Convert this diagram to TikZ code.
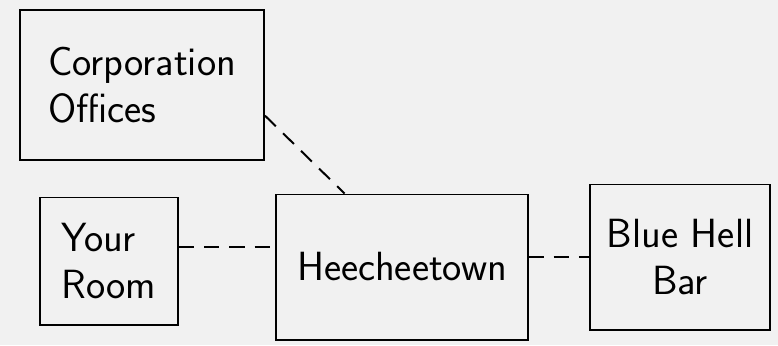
\documentclass[tikz,border=0pt]{standalone}
\usepackage{tikz}
\usetikzlibrary{positioning}

\definecolor{paper}{HTML}{F1F1F1}

\begin{document}
\begin{tikzpicture}[x=0.025cm,y=-0.025cm,line width=1.4pt,
        every node/.append style={font=\sffamily\fontsize{29}{33}\selectfont}]
      \tikzstyle{place} = [draw=black,align=left,inner sep=0pt]
      \tikzstyle{link} = [dash pattern=on 0.38cm off 0.25cm]
      \fill[paper] (0,0) rectangle (778,345);
      \useasboundingbox (0,0) rectangle (778,345);
      \node (corp) [place,minimum width=6.1cm,minimum height=3.75cm] at (142,85) {Corporation\\Offices};
      \node (room) [place,minimum width=3.45cm,minimum height=3.175cm] at (109,261) {Your\\Room};
      \node (town) [place,minimum width=6.275cm,minimum height=3.625cm] at (402,267) {Heecheetown};
      \node (bar) [place,align=center,minimum width=4.5cm,minimum height=3.625cm] at (680,257) {Blue Hell\\Bar};
      \draw[link] (corp.-14) -- (town.128);
      \draw[link] ([yshift=3.4mm]room.east) -- ([yshift=3.4mm]room.east -| town.west);
      \draw[link] (bar.west -| town.east) -- (bar.west);
    \end{tikzpicture}
\end{document}
